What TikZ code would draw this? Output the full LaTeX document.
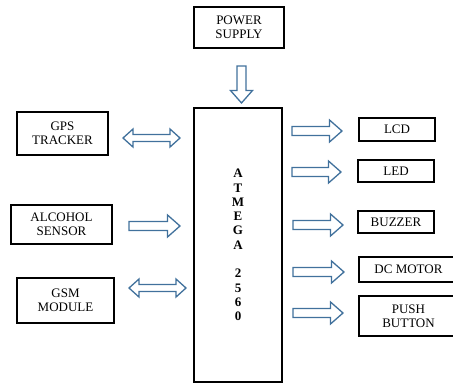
\documentclass[tikz,border=0pt]{standalone}
\usepackage{fontspec}
\setmainfont{Liberation Serif}
\usepackage{tikz}
\usetikzlibrary{calc}
\definecolor{arrowblue}{RGB}{65,113,156}

% hollow block arrow from #1 to #2
\newcommand{\blockarrow}[2]{%
 \path ($(#2)!12.5pt!(#1)$) coordinate (hd);
 \draw[barrow] ($(#1)!4.5pt!90:(#2)$)--($(hd)!4.5pt!90:(#2)$)--($(hd)!11pt!90:(#2)$)--(#2)
  --($(hd)!11pt!-90:(#2)$)--($(hd)!4.5pt!-90:(#2)$)--($(#1)!4.5pt!-90:(#2)$)--cycle;}
% hollow block arrow with two heads
\newcommand{\dblarrow}[2]{%
 \path ($(#1)!10pt!(#2)$) coordinate (ha) ($(#2)!10pt!(#1)$) coordinate (hb);
 \draw[barrow] (#1)--($(ha)!9pt!90:(#2)$)--($(ha)!3.5pt!90:(#2)$)--($(hb)!3.5pt!90:(#2)$)
  --($(hb)!9pt!90:(#2)$)--(#2)--($(hb)!9pt!-90:(#2)$)--($(hb)!3.5pt!-90:(#2)$)
  --($(ha)!3.5pt!-90:(#2)$)--($(ha)!9pt!-90:(#2)$)--cycle;}

\begin{document}
\begin{tikzpicture}[x=1pt,y=-1pt,
 blk/.style={draw,line width=1.6pt,align=center,inner sep=0pt,
  font=\fontsize{13}{14}\selectfont},
 barrow/.style={draw=arrowblue,line width=1.3pt,line join=miter,fill=white}]
 \clip (0,0) rectangle (453,383);
 % blocks
 \node[blk,minimum width=90pt,minimum height=41pt] (power) at (239,27.5) {POWER\\SUPPLY};
 \node[blk,minimum width=88pt,minimum height=274pt,
  font=\fontsize{13}{14.3}\selectfont\bfseries] (mcu) at (238,245)
  {A\\T\\M\\E\\G\\A\\[14.3pt]2\\5\\6\\0};
 \node[blk,minimum width=91pt,minimum height=43pt] (gps) at (62.5,133.5) {GPS\\TRACKER};
 \node[blk,minimum width=101pt,minimum height=39pt] (alcohol) at (61.5,224.5) {ALCOHOL\\SENSOR};
 \node[blk,minimum width=97pt,minimum height=45pt] (gsm) at (65.5,300.5) {GSM\\MODULE};
 \node[blk,minimum width=76pt,minimum height=23pt] (lcd) at (397,129.5) {LCD};
 \node[blk,minimum width=76pt,minimum height=22pt] (led) at (396,171) {LED};
 \node[blk,minimum width=76pt,minimum height=22pt] (buzzer) at (396,222) {BUZZER};
 \node[blk,minimum width=99pt,minimum height=25pt] (dcmotor) at (408.5,269.5) {DC MOTOR};
 \node[blk,minimum width=99pt,minimum height=40pt] (push) at (408.5,316) {PUSH\\BUTTON};
 % arrow ends
 \coordinate (powerA) at (241.5,66);  \coordinate (powerB) at (241.5,103);
 \coordinate (gpsA) at (123,138);     \coordinate (gpsB) at (180,138);
 \coordinate (alcoholA) at (129,226); \coordinate (alcoholB) at (180,226);
 \coordinate (gsmA) at (129,288);     \coordinate (gsmB) at (186,288);
 \coordinate (lcdA) at (292,131);     \coordinate (lcdB) at (342,131);
 \coordinate (ledA) at (292,172);     \coordinate (ledB) at (341,172);
 \coordinate (buzzerA) at (293,225);  \coordinate (buzzerB) at (343,225);
 \coordinate (dcmotorA) at (293,272); \coordinate (dcmotorB) at (344,272);
 \coordinate (pushA) at (293,313);    \coordinate (pushB) at (343,313);
 % arrows
 \blockarrow{powerA}{powerB}
 \dblarrow{gpsA}{gpsB}
 \blockarrow{alcoholA}{alcoholB}
 \dblarrow{gsmA}{gsmB}
 \blockarrow{lcdA}{lcdB}
 \blockarrow{ledA}{ledB}
 \blockarrow{buzzerA}{buzzerB}
 \blockarrow{dcmotorA}{dcmotorB}
 \blockarrow{pushA}{pushB}
\end{tikzpicture}
\end{document}
